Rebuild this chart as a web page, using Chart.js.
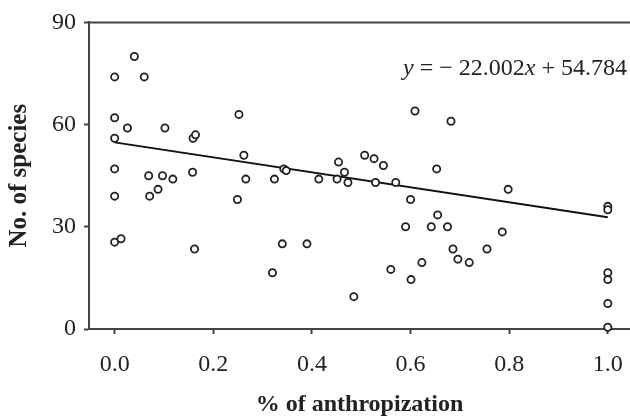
<!DOCTYPE html>
<html>
<head>
<meta charset="utf-8">
<script src="https://cdn.jsdelivr.net/npm/chart.js@4/dist/chart.umd.min.js"></script>
<style>
  body { margin: 0; background: #ffffff; }
  #wrap { width: 630px; height: 416px; }
</style>
</head>
<body>
<div id="wrap"><canvas id="especiesChart"></canvas></div>
<script>
// % of anthropization (x) and number of species (y)
const anthropization = [
    0.0, 0.04, 0.06, 0.0, 0.026, 0.102, 0.252, 0.0, 0.159, 0.164,
    0.262, 0.0, 0.069, 0.097, 0.118, 0.158, 0.266, 0.0, 0.071, 0.088,
    0.249, 0.0, 0.013, 0.162, 0.609, 0.343, 0.348, 0.324, 0.414, 0.454,
    0.466, 0.451, 0.473, 0.507, 0.526, 0.545, 0.529, 0.57, 0.6, 0.653,
    0.655, 0.59, 0.642, 0.34, 0.39, 0.32, 0.56, 0.623, 0.601, 0.485,
    0.682, 0.798, 1.0, 1.0, 0.675, 0.786, 0.686, 0.696, 0.719, 0.755,
    1.0, 1.0, 1.0, 1.0
];
const especies = [
    74, 80, 74, 62, 59, 59, 63, 56, 56, 57,
    51, 47, 45, 45, 44, 46, 44, 39, 39, 41,
    38, 25.5, 26.5, 23.5, 64, 47, 46.5, 44, 44, 49,
    46, 44, 43, 51, 50, 48, 43, 43, 38, 47,
    33.5, 30, 30, 25, 25, 16.5, 17.5, 19.5, 14.5, 9.5,
    61, 41, 36, 35, 30, 28.5, 23.5, 20.5, 19.5, 23.5,
    16.5, 14.5, 7.5, 0.5
];

const xTicks = [0, 0.2, 0.4, 0.6, 0.8, 1.0];
const yTicks = [0, 30, 60, 90];

// fitted line y = slope * x + intercept
const slope = -22.002;
const intercept = 54.784;
const lineX = [0, 1];

const pontos = anthropization.map((x, i) => ({ x: x, y: especies[i] }));
const reta = lineX.map(x => ({ x: x, y: slope * x + intercept }));

const serif = "'Liberation Serif', 'Times New Roman', serif";

const molduraEquacao = {
    id: "molduraEquacao",
    afterDraw(chart) {
        const { ctx, chartArea } = chart;
        ctx.save();

        // top frame line
        ctx.strokeStyle = "#444444";
        ctx.lineWidth = 2;
        ctx.beginPath();
        ctx.moveTo(chartArea.left, chartArea.top);
        ctx.lineTo(chartArea.right, chartArea.top);
        ctx.stroke();

        // regression equation
        const partes = [
            { t: "y", italic: true },
            { t: " = \u2212 22.002", italic: false },
            { t: "x", italic: true },
            { t: " + 54.784", italic: false }
        ];
        const size = 24;
        let total = 0;
        partes.forEach(p => {
            ctx.font = (p.italic ? "italic " : "") + size + "px " + serif;
            p.w = ctx.measureText(p.t).width;
            total += p.w;
        });
        let x = 627 - total;
        ctx.fillStyle = "#222222";
        ctx.textBaseline = "alphabetic";
        ctx.textAlign = "left";
        partes.forEach(p => {
            ctx.font = (p.italic ? "italic " : "") + size + "px " + serif;
            ctx.fillText(p.t, x, 75);
            x += p.w;
        });

        ctx.restore();
    }
};

const ctx = document.getElementById("especiesChart").getContext("2d");

new Chart(ctx, {
    type: "scatter",

    data: {
        datasets: [
            {
                label: "Species",
                data: pontos,
                pointStyle: "circle",
                pointRadius: 3.6,
                pointBorderWidth: 1.8,
                pointBorderColor: "#222222",
                pointBackgroundColor: "#ffffff",
                clip: false
            },
            {
                type: "line",
                label: "Fit",
                data: reta,
                borderColor: "#111111",
                borderWidth: 2,
                pointRadius: 0,
                fill: false,
                tension: 0
            }
        ]
    },

    options: {
        responsive: true,
        maintainAspectRatio: false,
        animation: false,

        layout: {
            autoPadding: false,
            padding: { top: 20, right: 0, bottom: 0, left: 0 }
        },

        plugins: {
            legend: { display: false },
            tooltip: { enabled: false }
        },

        scales: {
            x: {
                type: "linear",
                min: -0.052,
                max: 1.045,
                afterBuildTicks: scale => {
                    scale.ticks = xTicks.map(v => ({ value: v }));
                },
                afterFit: scale => {
                    scale.height = 87;
                    scale.paddingRight = 0;
                },
                ticks: {
                    color: "#222222",
                    padding: 16,
                    font: { family: serif, size: 24 },
                    callback: value => value.toFixed(1)
                },
                grid: {
                    drawOnChartArea: false,
                    drawTicks: true,
                    tickLength: 5,
                    tickWidth: 2,
                    tickColor: "#444444"
                },
                border: {
                    color: "#444444",
                    width: 2
                },
                title: {
                    display: true,
                    text: "% of anthropization",
                    color: "#222222",
                    font: { family: serif, size: 24, weight: "bold", lineHeight: 1 },
                    padding: { top: 0, bottom: -1 }
                }
            },

            y: {
                min: 0,
                max: 90,
                afterBuildTicks: scale => {
                    scale.ticks = yTicks.map(v => ({ value: v }));
                },
                afterFit: scale => {
                    scale.width = 89;
                },
                ticks: {
                    color: "#222222",
                    padding: 8,
                    font: { family: serif, size: 24 }
                },
                grid: {
                    drawOnChartArea: false,
                    drawTicks: true,
                    tickLength: 5,
                    tickWidth: 2,
                    tickColor: "#444444"
                },
                border: {
                    color: "#444444",
                    width: 2
                },
                title: {
                    display: true,
                    text: "No. of species",
                    color: "#222222",
                    font: { family: serif, size: 25, weight: "bold", lineHeight: 1 },
                    padding: { top: 7, bottom: 0 }
                }
            }
        }
    },

    plugins: [molduraEquacao]
});
</script>
</body>
</html>
